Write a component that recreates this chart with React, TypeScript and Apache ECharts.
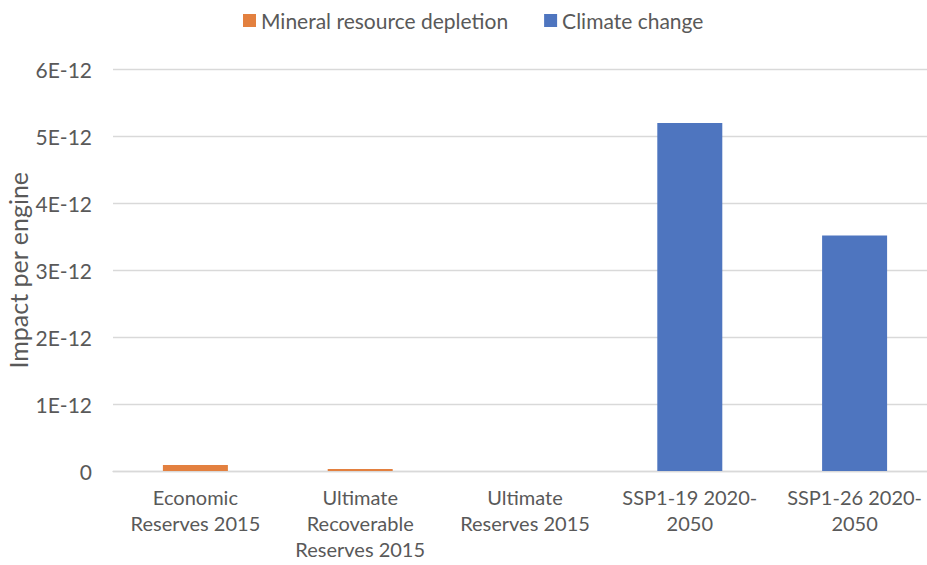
import React, { useEffect, useRef } from "react";
import * as echarts from "echarts";

// Impact per engine for each scenario
const categories = [
  "Economic\nReserves 2015",
  "Ultimate\nRecoverable\nReserves 2015",
  "Ultimate\nReserves 2015",
  "SSP1-19 2020-\n2050",
  "SSP1-26 2020-\n2050",
];
const mineralDepletion = [9e-14, 3e-14, 0, null, null];
const climateChange = [null, null, null, 5.2e-12, 3.52e-12];
const seriesNames = ["Mineral resource depletion", "Climate change"];
const yTicks = { min: 0, max: 6e-12, interval: 1e-12 };

const FONT = "Lato, 'Liberation Sans', sans-serif";
const TEXT = "#595959";

export default function App() {
  const ref = useRef<HTMLDivElement>(null);

  useEffect(() => {
    document.body.style.margin = "0";
    document.body.style.overflow = "hidden";
    if (!ref.current) return;
    const chart = echarts.init(ref.current, undefined, { renderer: "svg" });
    chart.setOption({
      animation: false,
      textStyle: { fontFamily: FONT, color: TEXT },
      legend: {
        left: 238,
        top: 5,
        itemWidth: 13,
        itemHeight: 13,
        itemGap: 36,
        icon: "rect",
        textStyle: { fontSize: 21, color: TEXT, fontFamily: FONT },
        data: seriesNames,
      },
      grid: {
        left: 113,
        top: 69.5,
        width: 824,
        height: 401.5,
        containLabel: false,
        outerBoundsMode: "none",
      },
      xAxis: {
        type: "category",
        data: categories,
        axisTick: { show: false },
        axisLine: { lineStyle: { color: "#D9D9D9", width: 1.3 } },
        axisLabel: {
          fontSize: 20,
          color: TEXT,
          fontFamily: FONT,
          lineHeight: 26,
          margin: 13,
          interval: 0,
        },
      },
      yAxis: {
        type: "value",
        min: yTicks.min,
        max: yTicks.max,
        interval: yTicks.interval,
        name: "Impact per engine",
        nameLocation: "middle",
        nameGap: 83,
        nameRotate: 90,
        nameMoveOverlap: false,
        nameTextStyle: { fontSize: 25, color: TEXT, fontFamily: FONT },
        axisLine: { show: false },
        axisTick: { show: false },
        splitLine: { lineStyle: { color: "#D9D9D9", width: 1.3 } },
        axisLabel: {
          fontSize: 21,
          color: TEXT,
          fontFamily: FONT,
          margin: 21,
          formatter: (v: number) => {
            const n = Math.round(v * 1e12);
            return n === 0 ? "0" : `${n}E-12`;
          },
        },
      },
      series: [
        {
          name: seriesNames[0],
          type: "bar",
          stack: "all",
          barWidth: 65,
          itemStyle: { color: "#E3803F" },
          data: mineralDepletion,
        },
        {
          name: seriesNames[1],
          type: "bar",
          stack: "all",
          barWidth: 65,
          itemStyle: { color: "#4E75BF" },
          data: climateChange,
        },
      ],
    });
    return () => chart.dispose();
  }, []);

  return <div ref={ref} style={{ width: 927, height: 565 }} />;
}
